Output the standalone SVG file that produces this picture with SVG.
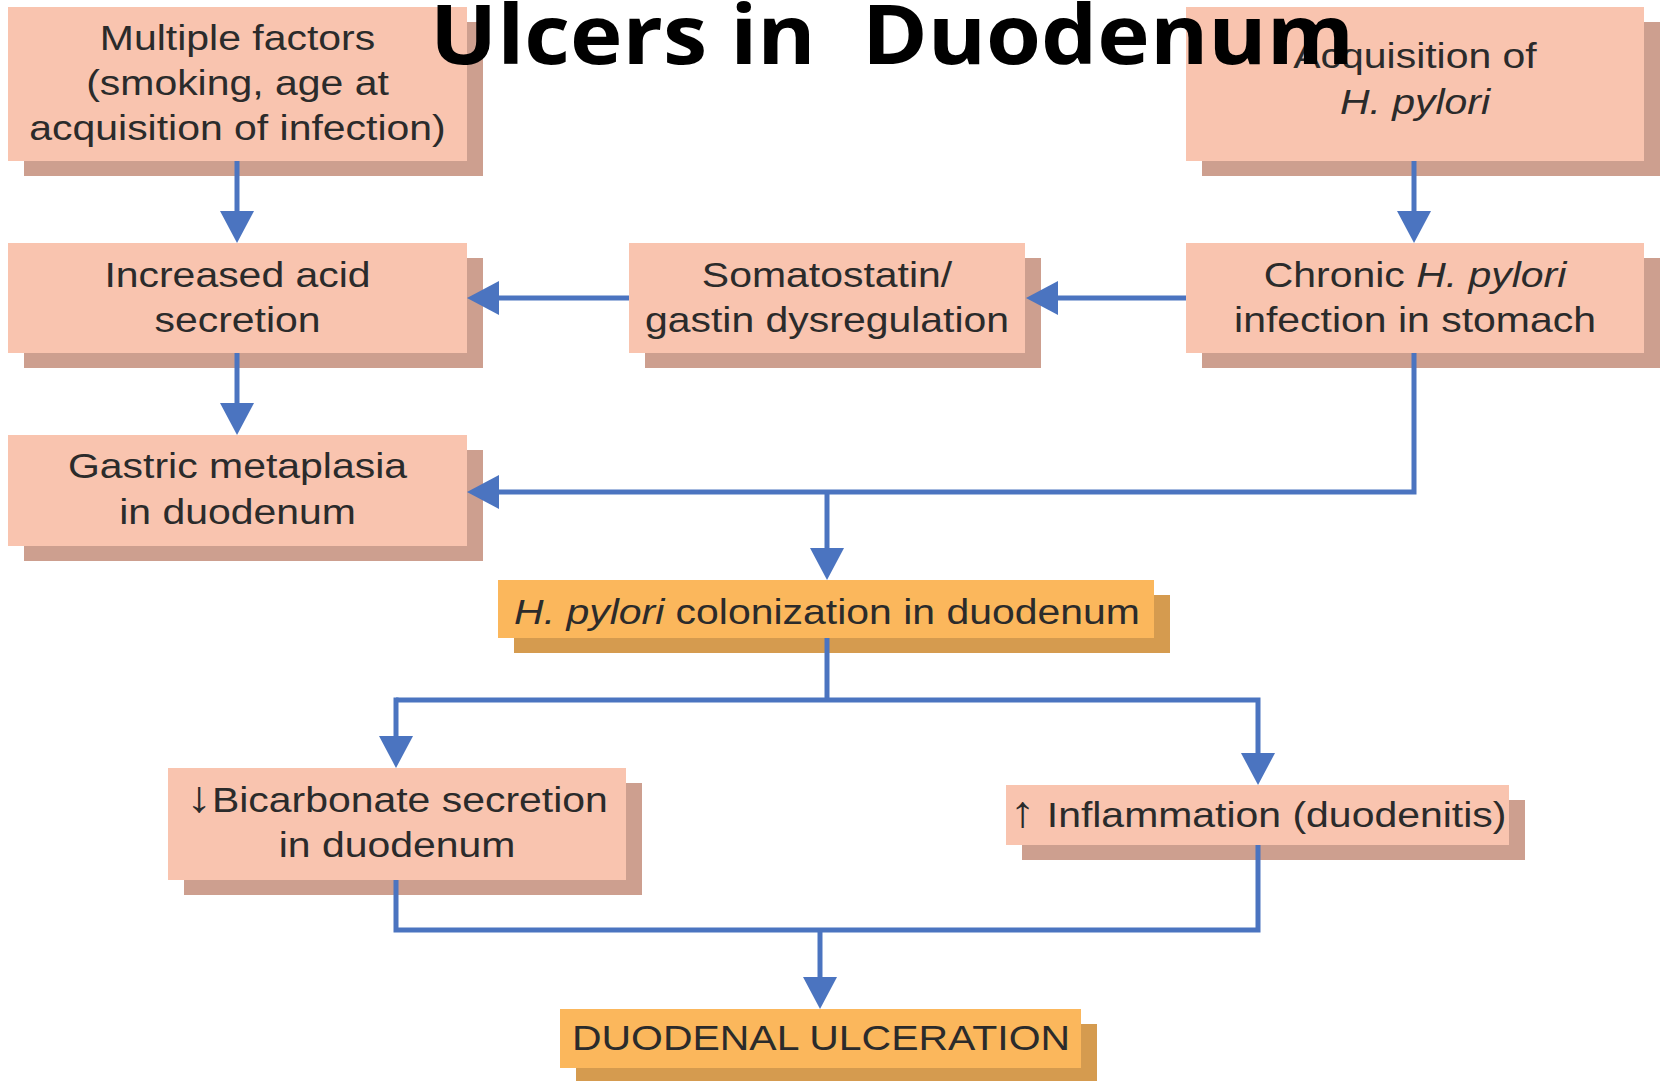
<svg xmlns="http://www.w3.org/2000/svg" width="1661" height="1081" viewBox="0 0 1661 1081">
<style>
.box{fill:#F9C4AF}
.sh{fill:#CD9F8F}
.obox{fill:#FBB75C}
.osh{fill:#D59B4F}
.t{font-family:"Liberation Sans",Arial,Helvetica,sans-serif;font-size:35px;fill:#2B2B2B;text-anchor:middle}
.it{font-style:italic}
.ar{font-size:44px}
.c{fill:none;stroke:#4B74C0;stroke-width:5;stroke-linejoin:miter}
.title{font-family:"Open Sans","DejaVu Sans",sans-serif;font-weight:bold;font-size:82px;fill:#000}
</style>
<defs>
<marker id="ah" markerUnits="userSpaceOnUse" markerWidth="32" markerHeight="34" refX="24" refY="17" orient="auto">
<path d="M0,0 L32,17 L0,34 Z" fill="#4B74C0"/>
</marker>
</defs>
<rect width="1661" height="1081" fill="#fff"/>

<g id="multiple">
<rect class="sh" x="24" y="22" width="459" height="154"/>
<rect class="box" x="8" y="7" width="459" height="154"/>
<text class="t" transform="translate(237.5 0) scale(1.17 1)"><tspan x="0" y="50">Multiple factors</tspan><tspan x="0" y="95">(smoking, age at</tspan><tspan x="0" y="140">acquisition of infection)</tspan></text>
</g>

<g id="acquisition">
<rect class="sh" x="1202" y="22" width="458" height="154"/>
<rect class="box" x="1186" y="7" width="458" height="154"/>
<text class="t" transform="translate(1415 0) scale(1.17 1)"><tspan x="0" y="68">Acquisition of</tspan><tspan x="0" y="114" class="it">H. pylori</tspan></text>
</g>

<g id="increased">
<rect class="sh" x="24" y="258" width="459" height="110"/>
<rect class="box" x="8" y="243" width="459" height="110"/>
<text class="t" transform="translate(237.5 0) scale(1.17 1)"><tspan x="0" y="287">Increased acid</tspan><tspan x="0" y="332">secretion</tspan></text>
</g>

<g id="somatostatin">
<rect class="sh" x="645" y="258" width="396" height="110"/>
<rect class="box" x="629" y="243" width="396" height="110"/>
<text class="t" transform="translate(827 0) scale(1.17 1)"><tspan x="0" y="287">Somatostatin/</tspan><tspan x="0" y="332">gastin dysregulation</tspan></text>
</g>

<g id="chronic">
<rect class="sh" x="1202" y="258" width="458" height="110"/>
<rect class="box" x="1186" y="243" width="458" height="110"/>
<text class="t" transform="translate(1415 0) scale(1.17 1)"><tspan x="0" y="287">Chronic <tspan class="it">H. pylori</tspan></tspan><tspan x="0" y="332">infection in stomach</tspan></text>
</g>

<g id="gastric">
<rect class="sh" x="24" y="450" width="459" height="111"/>
<rect class="box" x="8" y="435" width="459" height="111"/>
<text class="t" transform="translate(237.5 0) scale(1.17 1)"><tspan x="0" y="478">Gastric metaplasia</tspan><tspan x="0" y="524">in duodenum</tspan></text>
</g>

<g id="colonization">
<rect class="osh" x="514" y="595" width="656" height="58"/>
<rect class="obox" x="498" y="580" width="656" height="58"/>
<text class="t" transform="translate(827 0) scale(1.17 1)"><tspan x="0" y="624"><tspan class="it">H. pylori</tspan> colonization in duodenum</tspan></text>
</g>

<g id="bicarbonate">
<rect class="sh" x="184" y="783" width="458" height="112"/>
<rect class="box" x="168" y="768" width="458" height="112"/>
<text class="t" transform="translate(397 0) scale(1.17 1)"><tspan x="0" y="812"><tspan class="ar">↓</tspan>Bicarbonate secretion</tspan><tspan x="0" y="857">in duodenum</tspan></text>
</g>

<g id="inflammation">
<rect class="sh" x="1022" y="800" width="503" height="60"/>
<rect class="box" x="1006" y="785" width="503" height="60"/>
<text class="t" transform="translate(1258 0) scale(1.17 1)"><tspan x="0" y="827"><tspan class="ar">↑</tspan> Inflammation (duodenitis)</tspan></text>
</g>

<g id="ulceration">
<rect class="osh" x="576" y="1024" width="521" height="59"/>
<rect class="obox" x="560" y="1009" width="521" height="59"/>
<text class="t" transform="translate(821 0) scale(1.17 1)"><tspan x="0" y="1050">DUODENAL ULCERATION</tspan></text>
</g>

<g id="connectors">
<path class="c" d="M237,161 V235" marker-end="url(#ah)"/>
<path class="c" d="M1414,161 V235" marker-end="url(#ah)"/>
<path class="c" d="M1186,298 H1034" marker-end="url(#ah)"/>
<path class="c" d="M629,298 H475" marker-end="url(#ah)"/>
<path class="c" d="M237,353 V427" marker-end="url(#ah)"/>
<path class="c" d="M1414,353 V492 H475" marker-end="url(#ah)"/>
<path class="c" d="M827,492 V572" marker-end="url(#ah)"/>
<path class="c" d="M827,638 V700"/>
<path class="c" d="M396,700 H1258 V777" marker-end="url(#ah)"/>
<path class="c" d="M396,697.5 V760" marker-end="url(#ah)"/>
<path class="c" d="M396,880 V930 H1258 V845"/>
<path class="c" d="M820,930 V1001" marker-end="url(#ah)"/>
</g>

<g id="title">
<text class="title" x="430" y="64" textLength="924" lengthAdjust="spacingAndGlyphs" xml:space="preserve">Ulcers in  Duodenum</text>
</g>
</svg>
